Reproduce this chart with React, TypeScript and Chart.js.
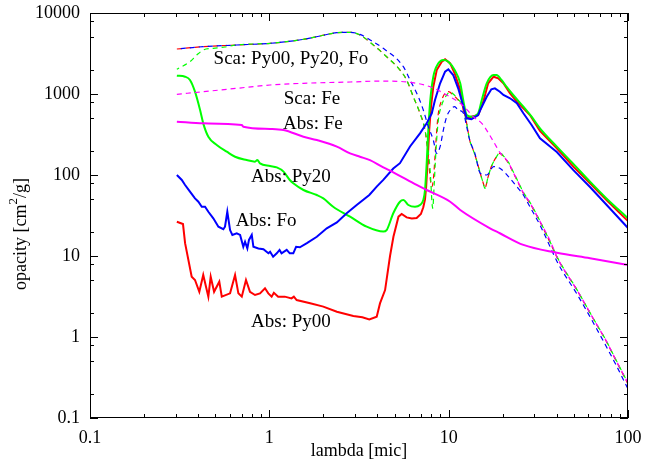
import React, { useEffect, useRef } from "react";
import { Chart, registerables } from "chart.js";

Chart.register(...registerables);

const FONT = "'Liberation Serif', 'Times New Roman', serif";

// ---- Data (wavelength in micron, opacity in cm^2/g) ----
const absPy00Lambda = [0.305, 0.33, 0.339, 0.369, 0.385, 0.407, 0.428, 0.457, 0.471, 0.492, 0.526, 0.543, 0.604, 0.644, 0.672, 0.702, 0.741, 0.78, 0.832, 0.887, 0.946, 0.987, 1.03, 1.06, 1.12, 1.22, 1.33, 1.37, 1.42, 1.69, 2.0, 2.38, 2.94, 3.3, 3.61, 3.97, 4.14, 4.42, 4.71, 4.92, 5.25, 5.47, 5.83, 6.23, 6.63, 7.0, 7.22, 7.38, 7.49, 7.62, 7.79, 7.97, 8.21, 8.58, 9.15, 9.55, 10.2, 10.8, 11.6, 12.1, 12.6, 13.4, 14.6, 15.6, 16.6, 17.8, 18.9, 20.2, 22.0, 24.0, 28.4, 32.3, 40.1, 49.6, 61.4, 76.1, 100];
const absPy00Value = [26.5, 24.8, 14.4, 5.55, 5.06, 3.62, 5.83, 3.15, 5.55, 3.62, 4.82, 3.15, 3.46, 5.83, 3.46, 3.15, 5.06, 3.62, 3.3, 3.46, 3.99, 3.46, 3.15, 3.52, 3.15, 3.15, 3.0, 3.15, 2.86, 2.61, 2.37, 2.05, 1.82, 1.75, 1.65, 1.78, 2.6, 3.8, 10, 17.3, 30.6, 33, 30, 29, 29.5, 33, 40, 50, 72, 139, 359, 697, 1231, 1978, 2506, 2680, 2390, 1802, 1119, 634, 501, 525, 550, 804, 1356, 1636, 1563, 1356, 1020, 804, 550, 350, 214, 127, 79, 48.6, 27];

const absPy20Lambda = [0.305, 0.339, 0.361, 0.385, 0.411, 0.428, 0.457, 0.509, 0.579, 0.644, 0.748, 0.832, 0.857, 0.887, 1.01, 1.1, 1.2, 1.3, 1.36, 1.55, 1.84, 2.0, 2.27, 2.82, 3.49, 4.32, 4.51, 4.91, 5.35, 5.59, 5.96, 6.49, 6.92, 7.22, 7.38, 7.54, 7.7, 7.87, 8.21, 8.76, 9.34, 9.96, 10.8, 11.6, 12.1, 12.6, 13.4, 14.6, 15.3, 16.3, 17.8, 18.5, 19.7, 21.0, 22.9, 26.1, 29.0, 32.3, 40.1, 49.6, 61.4, 76.1, 100];
const absPy20Value = [1683, 1636, 1490, 1068, 634, 434, 297, 235, 194, 168, 153, 146, 153, 139, 129, 124, 110, 86.8, 79, 65.3, 56.6, 51.5, 40.6, 30.6, 23.0, 20.0, 20.9, 33.7, 46.8, 49, 42.6, 40.6, 42.6, 49, 65, 139, 359, 768, 1636, 2390, 2630, 2506, 1978, 1356, 804, 550, 525, 578, 843, 1356, 1717, 1717, 1490, 1231, 972, 697, 525, 377, 224, 137, 82.7, 51, 29.2];

const absFoLambda = [0.305, 0.325, 0.339, 0.361, 0.385, 0.402, 0.42, 0.438, 0.457, 0.487, 0.52, 0.554, 0.566, 0.583, 0.604, 0.622, 0.658, 0.687, 0.716, 0.732, 0.754, 0.77, 0.798, 0.815, 0.869, 0.927, 0.988, 1.01, 1.05, 1.1, 1.14, 1.17, 1.25, 1.3, 1.36, 1.41, 1.48, 1.62, 1.84, 2.09, 2.38, 2.7, 3.07, 3.61, 3.97, 4.32, 4.91, 5.35, 6.09, 6.92, 7.54, 8.05, 8.39, 8.96, 9.55, 9.96, 10.6, 11.3, 12.1, 12.6, 13.4, 14.6, 15.0, 16.3, 17.3, 18.1, 19.3, 20.2, 22.0, 24.0, 26.1, 29.0, 32.3, 40.1, 49.6, 61.4, 76.1, 100];
const absFoValue = [100, 86.8, 75.3, 62.2, 51.5, 46.8, 40.6, 40.6, 35.2, 29.2, 23.0, 21.4, 23.0, 35.2, 20.9, 18.2, 19.1, 18.2, 13.0, 15.0, 12.4, 15.8, 18.2, 13.0, 12.4, 12.1, 10.8, 11.3, 9.8, 10.8, 11.9, 10.8, 11.9, 10.8, 10.8, 13.0, 12.8, 14.4, 17.3, 22.0, 26, 33.7, 42.6, 56.6, 71.8, 87, 120, 140, 225, 327, 434, 578, 843, 1356, 1884, 2018, 1717, 1175, 697, 501, 487, 550, 634, 926, 1143, 1175, 1068, 972, 885, 768, 578, 414, 284, 192, 115, 71, 42.6, 22.2];

const absFeLambda = [0.305, 0.428, 0.702, 0.716, 1.01, 1.2, 1.55, 1.84, 2.38, 2.82, 3.2, 3.64, 4.32, 4.91, 6.63, 7.54, 10.2, 11.6, 17.0, 19.3, 26.1, 40.1, 61.4, 100];
const absFeValue = [455, 434, 414, 395, 370, 359, 297, 270, 224, 185, 168, 153, 124, 108, 75.3, 65.3, 46.8, 37, 22.0, 19.1, 13.7, 11.0, 9.37, 7.74];

const scaPy00Lambda = [0.305, 0.428, 0.658, 1.01, 1.25, 1.55, 1.92, 2.38, 2.82, 3.2, 3.8, 4.51, 5.35, 5.83, 6.35, 6.92, 7.38, 7.7, 7.87, 8.05, 8.21, 8.39, 8.58, 8.76, 9.15, 9.55, 9.96, 10.6, 11.3, 12.1, 12.6, 13.1, 13.7, 14.3, 15.0, 15.6, 15.9, 16.6, 17.3, 18.5, 19.3, 20.2, 21.6, 23.0, 24.5, 26.1, 28.4, 32.3, 36.6, 40.9, 51.9, 64.6, 75.0, 85.4, 100];
const scaPy00Value = [3594, 3838, 4027, 4227, 4426, 4734, 5200, 5715, 5781, 5350, 4027, 2885, 1978, 1490, 926, 578, 359, 168, 95, 71.8, 86.8, 168, 359, 578, 843, 1020, 1068, 972, 843, 671, 434, 270, 204, 153, 105, 79, 68.5, 95, 127, 168, 185, 168, 139, 105, 79, 59.4, 44.7, 26.5, 15.0, 8.92, 3.8, 1.62, 0.918, 0.52, 0.263];

const scaPy20Lambda = [0.305, 0.361, 0.394, 0.428, 0.487, 0.566, 0.658, 1.01, 1.25, 1.55, 1.92, 2.38, 2.82, 3.2, 3.8, 4.51, 5.35, 5.83, 6.35, 6.92, 7.38, 7.7, 7.87, 8.15, 8.3, 8.5, 8.76, 9.15, 9.75, 10.2, 10.6, 11.3, 12.1, 12.6, 13.1, 13.7, 14.3, 15.0, 15.6, 15.9, 16.6, 17.3, 18.5, 19.3, 20.2, 21.6, 23.0, 24.5, 26.1, 28.4, 32.3, 36.6, 40.9, 51.9, 64.6, 75.0, 85.4, 100];
const scaPy20Value = [2018, 2506, 3030, 3493, 3665, 3802, 4027, 4227, 4426, 4734, 5200, 5715, 5781, 5350, 4027, 2885, 1978, 1490, 926, 578, 359, 190, 120, 38.8, 75, 204, 478, 731, 972, 1059, 1000, 860, 671, 434, 270, 204, 153, 105, 79, 68.5, 95, 127, 168, 190, 172, 142, 108, 81, 61, 46, 27, 15.3, 9.1, 3.85, 1.64, 0.93, 0.53, 0.268];

const scaFoLambda = [0.305, 0.428, 0.658, 1.01, 1.25, 1.55, 1.92, 2.38, 2.82, 3.2, 3.8, 4.32, 5.59, 6.09, 6.77, 7.22, 7.7, 8.21, 8.58, 8.96, 9.34, 9.75, 10.2, 10.8, 11.3, 12.1, 12.6, 13.1, 14.0, 15.0, 16.3, 17.8, 19.3, 21.6, 24.0, 26.1, 27.7, 32.3, 40.9, 51.9, 64.6, 85.4, 100];
const scaFoValue = [3594, 3838, 4027, 4227, 4426, 4734, 5200, 5715, 5781, 5450, 4400, 3665, 2173, 1490, 926, 634, 395, 270, 185, 224, 359, 525, 634, 697, 634, 578, 395, 270, 185, 105, 100, 127, 121, 95, 71.8, 56.6, 44.7, 24.1, 7.96, 3.4, 1.45, 0.46, 0.228];

const scaFeLambda = [0.305, 0.428, 0.658, 1.01, 1.55, 2.82, 4.32, 6.63, 8.21, 9.75, 11.6, 12.6, 13.7, 15.3, 17.8, 19.3, 20.2, 21.6, 23.0, 24.5, 26.1, 28.4, 32.3, 36.6, 40.9, 51.9, 64.6, 75.0, 85.4, 100];
const scaFeValue = [992, 1068, 1175, 1291, 1356, 1406, 1446, 1356, 1186, 972, 768, 647, 525, 434, 258, 190, 170, 141, 106, 80, 60, 45.5, 26.8, 15.8, 9.0, 3.82, 1.63, 0.925, 0.525, 0.27];

// ---- Axes ----
const xTickValues = [0.1, 1, 10, 100];
const yTickValues = [0.1, 1, 10, 100, 1000, 10000];
const xMinorMultipliers = [2, 3, 4, 5, 6, 7, 8, 9];
const yMinorMultipliers = [2, 5, 8];
const xTitle = "lambda [mic]";
const yTitleMain = "opacity [cm";
const yTitleSup = "2";
const yTitleEnd = "/g]";

// ---- In-plot labels ----
const labelTexts = ["Sca: Py00, Py20, Fo", "Sca: Fe", "Abs: Fe", "Abs: Py20", "Abs: Fo", "Abs: Py00"];
const labelLambda = [1.32, 1.73, 1.75, 1.32, 0.96, 1.32];
const labelOpacity = [2700, 867, 426, 94.5, 27, 1.53];

const pts = (xs: number[], ys: number[]) => xs.map((x, i) => ({ x, y: ys[i] }));

const framePlugin = {
  id: "gnuframe",
  afterDatasetsDraw(chart: any) {
    const { ctx, chartArea: a } = chart;
    const xs = chart.scales.x;
    const ys = chart.scales.y;
    ctx.save();
    ctx.strokeStyle = "#000";
    ctx.lineWidth = 1;
    ctx.strokeRect(a.left + 0.5, a.top + 0.5, a.right - a.left - 1, a.bottom - a.top - 1);
    const seg = (x1: number, y1: number, x2: number, y2: number) => {
      ctx.beginPath();
      ctx.moveTo(x1, y1);
      ctx.lineTo(x2, y2);
      ctx.stroke();
    };
    const xTick = (v: number, len: number) => {
      const p = Math.round(xs.getPixelForValue(v)) + 0.5;
      seg(p, a.bottom, p, a.bottom - len);
      seg(p, a.top, p, a.top + len);
    };
    const yTick = (v: number, len: number) => {
      const p = Math.round(ys.getPixelForValue(v)) + 0.5;
      seg(a.left, p, a.left + len, p);
      seg(a.right, p, a.right - len, p);
    };
    for (let i = 0; i < xTickValues.length; i++) {
      const d = xTickValues[i];
      xTick(d, 8);
      if (i < xTickValues.length - 1) xMinorMultipliers.forEach((m) => xTick(d * m, 4));
    }
    for (let i = 0; i < yTickValues.length; i++) {
      const d = yTickValues[i];
      yTick(d, 8);
      if (i < yTickValues.length - 1) yMinorMultipliers.forEach((m) => yTick(d * m, 4));
    }
    // in-plot labels
    ctx.fillStyle = "#000";
    ctx.font = `19px ${FONT}`;
    ctx.textAlign = "center";
    ctx.textBaseline = "middle";
    labelTexts.forEach((t, i) => {
      ctx.fillText(t, xs.getPixelForValue(labelLambda[i]), ys.getPixelForValue(labelOpacity[i]));
    });
    // y-axis title with superscript
    ctx.translate(21, 234);
    ctx.rotate(-Math.PI / 2);
    ctx.textAlign = "left";
    const big = `18px ${FONT}`;
    const small = `13px ${FONT}`;
    ctx.font = big;
    const w1 = ctx.measureText(yTitleMain).width;
    const w3 = ctx.measureText(yTitleEnd).width;
    ctx.font = small;
    const w2 = ctx.measureText(yTitleSup).width;
    let cx = -(w1 + w2 + w3) / 2;
    ctx.font = big;
    ctx.fillText(yTitleMain, cx, 0);
    cx += w1;
    ctx.font = small;
    ctx.fillText(yTitleSup, cx, -7);
    cx += w2;
    ctx.font = big;
    ctx.fillText(yTitleEnd, cx, 0);
    ctx.restore();
  },
};

const solid = (label: string, xs: number[], ys: number[], color: string, smooth: boolean) => ({
  label,
  data: pts(xs, ys),
  borderColor: color,
  backgroundColor: color,
  borderWidth: 2,
  pointRadius: 0,
  fill: false,
  tension: 0,
  cubicInterpolationMode: smooth ? ("monotone" as const) : ("default" as const),
});

const dashed = (label: string, xs: number[], ys: number[], color: string, offset: number) => ({
  label,
  data: pts(xs, ys),
  borderColor: color,
  backgroundColor: color,
  borderWidth: 1.2,
  borderDash: [5, 4],
  borderDashOffset: offset,
  pointRadius: 0,
  fill: false,
  cubicInterpolationMode: "monotone" as const,
});

export default function App() {
  const ref = useRef<HTMLCanvasElement>(null);
  useEffect(() => {
    if (!ref.current) return;
    const chart = new Chart(ref.current, {
      type: "line",
      data: {
        datasets: [
          solid("Abs: Fe", absFeLambda, absFeValue, "#ff00ff", true),
          dashed("Sca: Fe", scaFeLambda, scaFeValue, "#ff00ff", 0),
          solid("Abs: Fo", absFoLambda, absFoValue, "#0000ff", false),
          dashed("Sca: Fo", scaFoLambda, scaFoValue, "#0000ff", 5),
          solid("Abs: Py20", absPy20Lambda, absPy20Value, "#00ff00", true),
          dashed("Sca: Py20", scaPy20Lambda, scaPy20Value, "#00ff00", 2.5),
          solid("Abs: Py00", absPy00Lambda, absPy00Value, "#ff0000", false),
          dashed("Sca: Py00", scaPy00Lambda, scaPy00Value, "#ff0000", 0),
        ],
      },
      options: {
        animation: false,
        responsive: false,
        devicePixelRatio: 1,
        layout: { padding: { top: 13, right: 17, left: 0, bottom: 0 } },
        plugins: { legend: { display: false }, tooltip: { enabled: false } },
        scales: {
          x: {
            type: "logarithmic",
            min: 0.1,
            max: 100,
            grid: { display: false, drawTicks: false },
            border: { display: false },
            afterBuildTicks: (s: any) => {
              s.ticks = xTickValues.map((v) => ({ value: v }));
            },
            afterFit: (s: any) => {
              s.height = 41;
            },
            ticks: {
              autoSkip: false,
              maxRotation: 0,
              padding: 0,
              color: "#000",
              font: { family: FONT, size: 18, lineHeight: 2.2 },
              callback: (v: any) => String(v),
            },
            title: {
              display: true,
              text: xTitle,
              color: "#000",
              font: { family: FONT, size: 18, lineHeight: 1 },
              padding: { top: 0, bottom: -1 },
            },
          },
          y: {
            type: "logarithmic",
            min: 0.1,
            max: 10000,
            grid: { display: false, drawTicks: false },
            border: { display: false },
            afterBuildTicks: (s: any) => {
              s.ticks = yTickValues.map((v) => ({ value: v }));
            },
            afterFit: (s: any) => {
              s.width = 90;
            },
            ticks: {
              autoSkip: false,
              padding: 10,
              color: "#000",
              font: { family: FONT, size: 18, lineHeight: 0.25 },
              callback: (v: any) => String(v),
            },
          },
        },
      },
      plugins: [framePlugin],
    });
    return () => chart.destroy();
  }, []);
  return (
    <div style={{ position: "absolute", left: 0, top: 0, width: 645, height: 459, background: "#fff" }}>
      <canvas ref={ref} width={645} height={459} style={{ display: "block" }} />
    </div>
  );
}
